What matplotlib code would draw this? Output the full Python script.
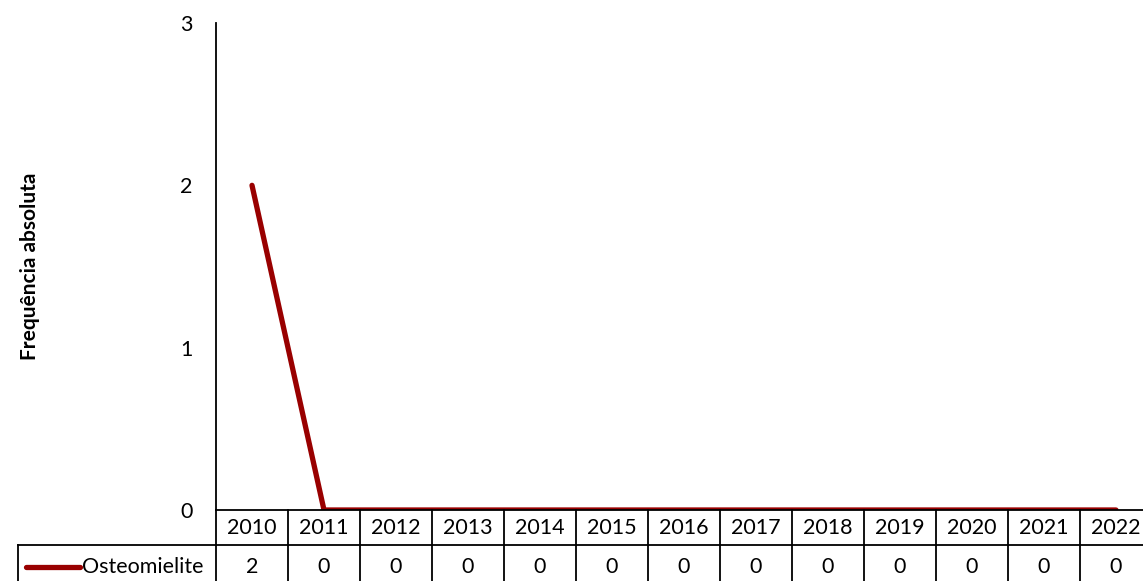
import matplotlib.pyplot as plt
from matplotlib.lines import Line2D

plt.rcParams['font.family'] = ['Lato', 'DejaVu Sans']

anos = ['2010', '2011', '2012', '2013', '2014', '2015', '2016',
        '2017', '2018', '2019', '2020', '2021', '2022']
osteomielite = [2, 0, 0, 0, 0, 0, 0, 0, 0, 0, 0, 0, 0]
serie_nome = 'Osteomielite'
cor = '#990000'

W, H = 1143, 581
fig = plt.figure(figsize=(W / 100, H / 100), dpi=100)

# plot area in pixels (right edge runs past the image like the original)
x0, x1 = 216, 1152
y_top, y_zero = 23, 510
ax = fig.add_axes([x0 / W, 1 - y_zero / H, (x1 - x0) / W, (y_zero - y_top) / H])
ax.set_xlim(-0.5, len(anos) - 0.5)
ax.set_ylim(0, 3)
ax.plot(range(len(anos)), osteomielite, color=cor, lw=3.8, solid_capstyle='round')

for s in ['top', 'right']:
    ax.spines[s].set_visible(False)
ax.spines['left'].set_linewidth(1.3)
ax.spines['bottom'].set_linewidth(1.3)
ax.set_xticks([])
ax.set_yticks([0, 1, 2, 3])
ax.tick_params(axis='y', length=0, pad=17, labelsize=15.5)

fig.text(30 / W, 1 - 266 / H, 'Frequência absoluta', rotation=90, ha='center',
         va='center', fontsize=15, fontweight='bold')

# data table below the axis
def fx(px):
    return px / W

def fy(py):
    return 1 - py / H

cw = (x1 - x0) / len(anos)
row1, row2, row3 = 510, 545, 590
lw = 1.3
fs = 15.5
# horizontal lines
fig.add_artist(Line2D([fx(18), fx(x1)], [fy(row2), fy(row2)], color='black', lw=lw))
# vertical lines
fig.add_artist(Line2D([fx(18), fx(18)], [fy(row2), fy(row3)], color='black', lw=lw))
for i in range(len(anos) + 1):
    xp = x0 + i * cw
    fig.add_artist(Line2D([fx(xp), fx(xp)], [fy(row1), fy(row3)], color='black', lw=lw))

for i, (a, v) in enumerate(zip(anos, osteomielite)):
    xc = x0 + (i + 0.5) * cw
    fig.text(fx(xc), fy((row1 + row2) / 2 + 1), a, ha='center', va='center', fontsize=fs)
    fig.text(fx(xc), fy(567), str(v), ha='center', va='center', fontsize=fs)

fig.add_artist(Line2D([fx(26), fx(80)], [fy(567), fy(567)], color=cor, lw=3.8,
                      solid_capstyle='round'))
fig.text(fx(82), fy(567), serie_nome, ha='left', va='center', fontsize=fs)

fig.savefig('out.png', dpi=100)
